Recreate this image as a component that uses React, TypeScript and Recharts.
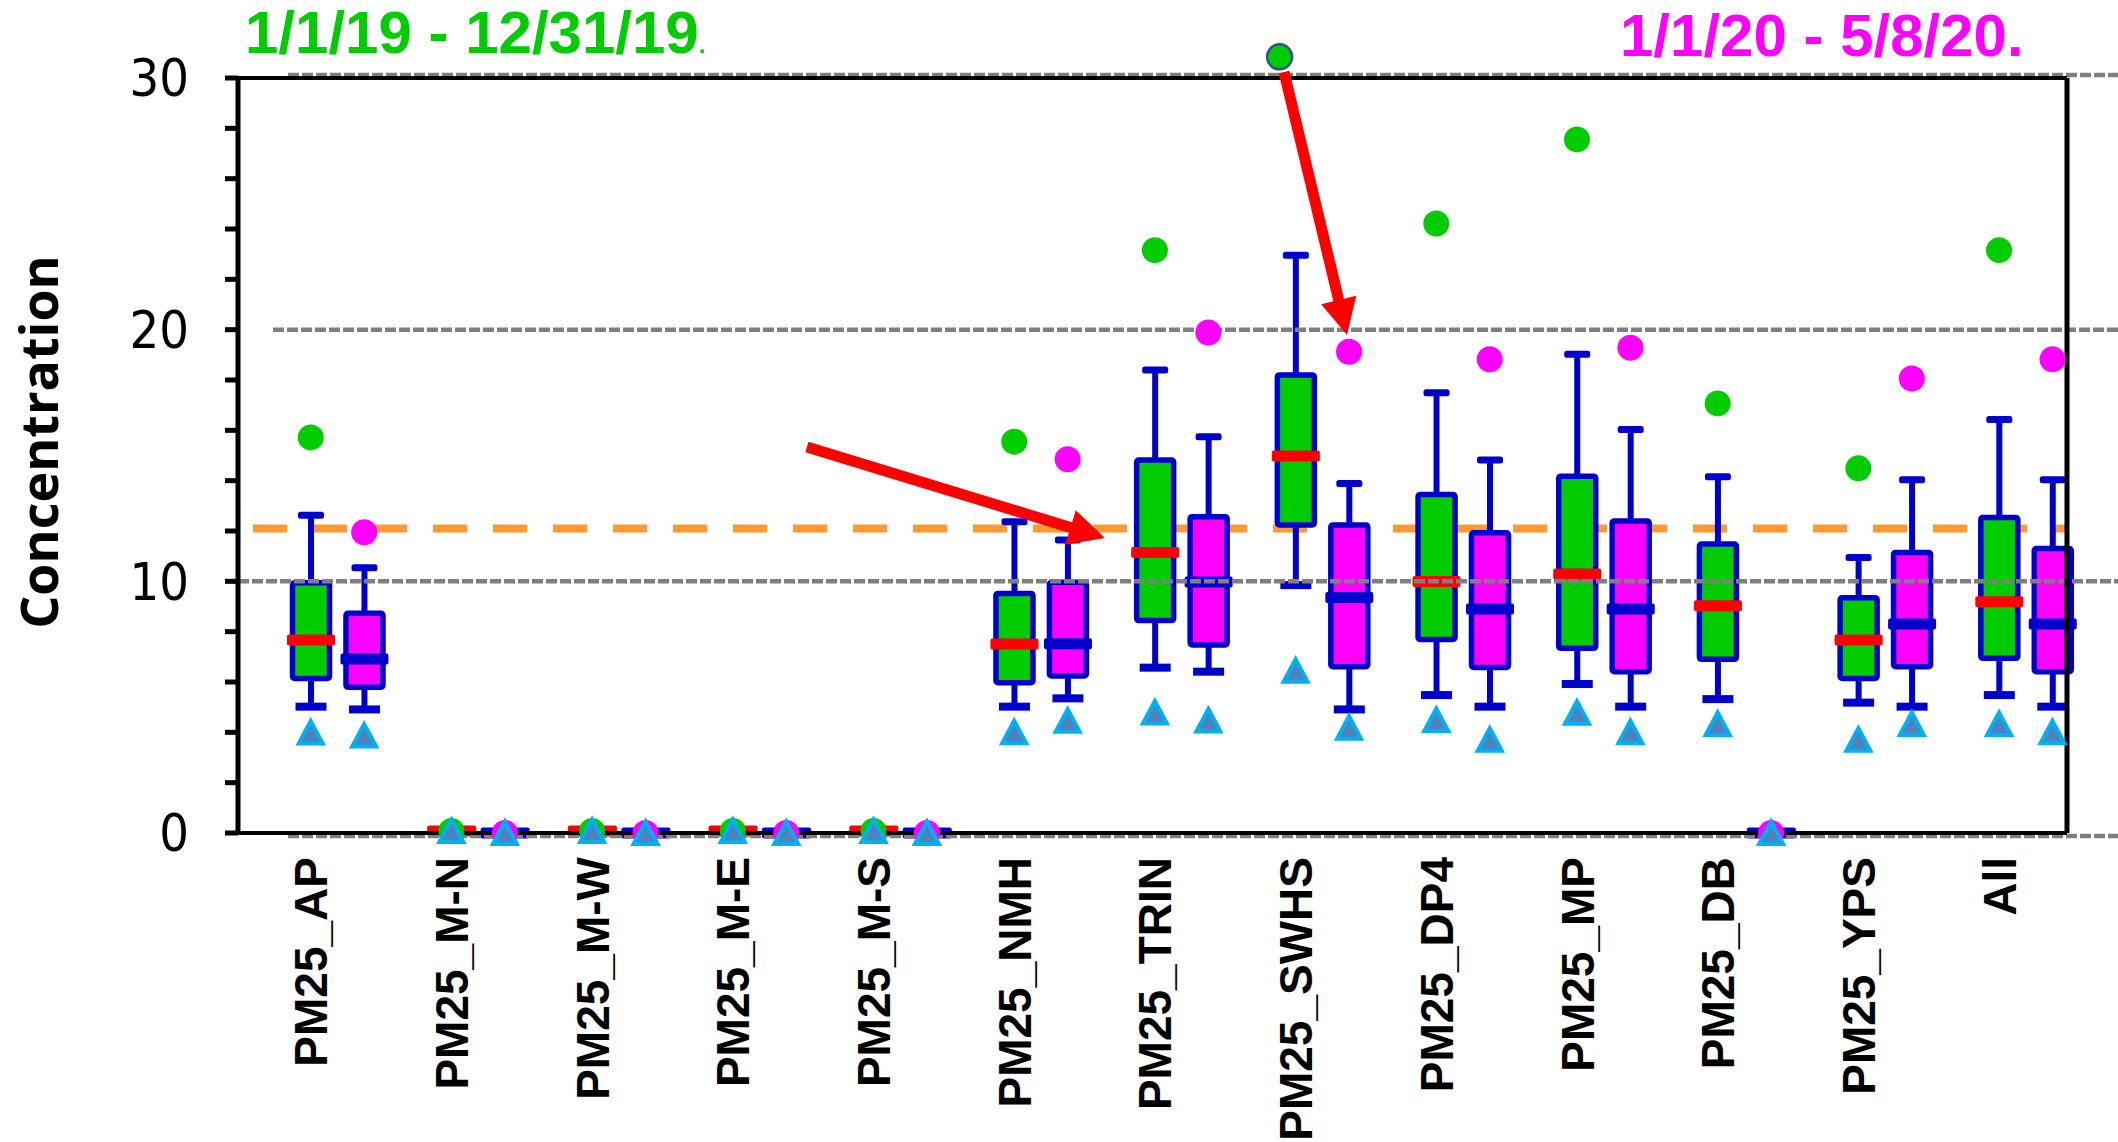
import React from 'react';
import { ComposedChart, Bar, Scatter, XAxis, YAxis, ReferenceLine } from 'recharts';

// ---------- data ----------
const categories = [
  'PM25_AP', 'PM25_M-N', 'PM25_M-W', 'PM25_M-E', 'PM25_M-S', 'PM25_NMH', 'PM25_TRIN',
  'PM25_SWHS', 'PM25_DP4', 'PM25_MP', 'PM25_DB', 'PM25_YPS', 'All',
];

// 1/1/19 - 12/31/19 (green)
const low2019 = [5.02, 0.08, 0.08, 0.08, 0.08, 5.02, 6.57, 9.85, 5.48, 5.92, 5.32, 5.18, 5.48];
const q1_2019 = [6.14, 0.08, 0.08, 0.08, 0.08, 5.97, 8.44, 12.24, 7.69, 7.34, 6.9, 6.14, 6.94];
const median2019 = [7.67, 0.08, 0.08, 0.08, 0.08, 7.51, 11.15, 14.98, 9.99, 10.29, 9.03, 7.67, 9.19];
const q3_2019 = [9.94, 0.08, 0.08, 0.08, 0.08, 9.52, 14.82, 18.2, 13.45, 14.18, 11.48, 9.35, 12.54];
const high2019 = [12.63, 0.08, 0.08, 0.08, 0.08, 12.37, 18.4, 22.96, 17.49, 19.02, 14.16, 10.95, 16.43];
const max2019 = [15.72, 0.08, 0.08, 0.08, 0.08, 15.55, 23.16, 30.84, 24.22, 27.56, 17.07, 14.49, 23.16];
const min2019 = [3.99, 0.08, 0.08, 0.08, 0.08, 4.0, 4.79, 6.45, 4.49, 4.78, 4.33, 3.71, 4.33];

// 1/1/20 - 5/8/20 (magenta)
const low2020 = [4.91, 0, 0, 0, 0, 5.35, 6.41, 4.91, 5.02, 5.02, 0, 5.02, 5.02];
const q1_2020 = [5.79, 0, 0, 0, 0, 6.24, 7.47, 6.61, 6.58, 6.41, 0, 6.61, 6.41];
const median2020 = [6.91, 0, 0, 0, 0, 7.52, 9.97, 9.36, 8.9, 8.9, 0, 8.3, 8.3];
const q3_2020 = [8.73, 0, 0, 0, 0, 9.96, 12.57, 12.24, 11.93, 12.4, 0, 11.15, 11.3];
const high2020 = [10.54, 0, 0, 0, 0, 11.64, 15.75, 13.89, 14.82, 16.03, 0, 14.04, 14.04];
const max2020 = [11.95, 0, 0, 0, 0, 14.85, 19.89, 19.12, 18.82, 19.28, 0, 18.06, 18.82];
const min2020 = [3.87, 0, 0, 0, 0, 4.46, 4.47, 4.18, 3.71, 4.0, 0, 4.33, 4.0];

const yTicks = [0, 2, 4, 6, 8, 10, 12, 14, 16, 18, 20, 22, 24, 26, 28, 30];
const gridValues = [0, 10, 20, 30];
const standardValue = 12.1;
const title2019 = '1/1/19 - 12/31/19';
const title2020 = '1/1/20 - 5/8/20.';
const yLabel = 'Concentration';

// annotation arrows, in chart (x index, concentration) coordinates
const arrows = [
  { from: { x: 4.044, y: 15.34 }, to: { x: 6.162, y: 11.72 } },
  { from: { x: 7.435, y: 30.24 }, to: { x: 7.883, y: 19.79 } },
];

// ---------- layout / style ----------
const W = 2118;
const H = 1142;
const GREEN_POS = 0.517;
const MAGENTA_POS = 0.897;
const GREEN = '#00CC00';
const MAGENTA = '#FF00FF';
const RED = '#FF0000';
const BLUE = '#0000CC';
const GRID_MAX = 30;

type Row = {
  x: number; period: string; range: [number, number];
  lo: number; q1: number; med: number; q3: number; hi: number; dot: number; tri: number;
};

const rows: Row[] = [];
categories.forEach((_, i) => {
  rows.push({
    x: i + GREEN_POS, period: '2019', range: [low2019[i], high2019[i]],
    lo: low2019[i], q1: q1_2019[i], med: median2019[i], q3: q3_2019[i], hi: high2019[i],
    dot: max2019[i], tri: min2019[i],
  });
  rows.push({
    x: i + MAGENTA_POS, period: '2020', range: [low2020[i], high2020[i]],
    lo: low2020[i], q1: q1_2020[i], med: median2020[i], q3: q3_2020[i], hi: high2020[i],
    dot: max2020[i], tri: min2020[i],
  });
});

const xTicks = categories.map((_, i) => i + GREEN_POS);

const BoxShape = (props: any) => {
  const { x, y, width, height, payload } = props;
  if (x == null || y == null || !payload) return null;
  const cx = x + (width || 0) / 2;
  const { lo, q1, med, q3, hi, period } = payload as Row;
  const span = hi - lo;
  const py = (v: number) => (span === 0 ? y : y + (height * (hi - v)) / span);
  const is19 = period === '2019';
  const fill = is19 ? GREEN : MAGENTA;
  const medColor = is19 ? RED : BLUE;
  if (span === 0) {
    return <rect x={cx - 24.5} y={py(med) - 5.5} width={49} height={11} rx={2} fill={medColor} />;
  }
  return (
    <g>
      <line x1={cx} x2={cx} y1={py(hi)} y2={py(lo)} stroke={BLUE} strokeWidth={6} />
      <rect x={cx - 13} y={py(hi) - 3.5} width={26} height={7} rx={2.5} fill={BLUE} />
      <rect x={cx - 15.5} y={py(lo) - 4} width={31} height={8} fill={BLUE} />
      <rect x={cx - 18.5} y={py(q3)} width={37} height={py(q1) - py(q3)} rx={2}
        fill={fill} stroke={BLUE} strokeWidth={5.5} />
      <rect x={cx - 24} y={py(med) - 5.5} width={48} height={11} rx={2} fill={medColor} />
    </g>
  );
};

const DotShape = (props: any) => {
  const { cx, cy, payload } = props;
  if (cx == null || cy == null) return null;
  const is19 = payload.period === '2019';
  const out = payload.dot > GRID_MAX;
  return (
    <circle cx={out ? cx - 16 : cx} cy={cy} r={out ? 12.5 : 13} fill={is19 ? GREEN : MAGENTA}
      stroke={out ? '#2F528F' : 'none'} strokeWidth={out ? 2.5 : 0} />
  );
};

const TriShape = (props: any) => {
  const { cx, cy } = props;
  if (cx == null || cy == null) return null;
  return (
    <polygon points={`${cx},${cy - 11.5} ${cx + 12},${cy + 11} ${cx - 12},${cy + 11}`}
      fill="#4F81BD" stroke="#00B0F0" strokeWidth={4} strokeLinejoin="miter" />
  );
};

const XTick = (props: any) => {
  const { x, y, payload } = props;
  const idx = Math.round(payload.value - GREEN_POS);
  return (
    <text x={x} y={y} transform={`rotate(-90, ${x}, ${y})`} textAnchor="end" dy="0.36em"
      fontFamily="'Liberation Sans', Arial, sans-serif" fontWeight="bold" fontSize={46} fill="#000">
      {categories[idx]}
    </text>
  );
};

const gridShape = (start: number, off: number) => (p: any) => (
  <line x1={p.x1 + start} x2={W} y1={p.y1 + off} y2={p.y2 + off}
    stroke="#7F7F7F" strokeWidth={4.5} strokeDasharray="11 3" />
);

const arrowShape = (p: any) => {
  const { x1, y1, x2, y2 } = p;
  const dx = x2 - x1;
  const dy = y2 - y1;
  const len = Math.sqrt(dx * dx + dy * dy) || 1;
  const ux = dx / len;
  const uy = dy / len;
  const nx = -uy;
  const ny = ux;
  const headLen = 36;
  const headHalf = 18;
  const shaftHalf = 5.5;
  const bx = x2 - ux * headLen;
  const by = y2 - uy * headLen;
  const pts = [
    [x1 + nx * shaftHalf, y1 + ny * shaftHalf],
    [bx + nx * shaftHalf, by + ny * shaftHalf],
    [bx + nx * headHalf, by + ny * headHalf],
    [x2, y2],
    [bx - nx * headHalf, by - ny * headHalf],
    [bx - nx * shaftHalf, by - ny * shaftHalf],
    [x1 - nx * shaftHalf, y1 - ny * shaftHalf],
  ].map((q) => q.join(',')).join(' ');
  return <polygon points={pts} fill="#FF0000" />;
};

export default function App() {
  return (
    <div style={{ position: 'absolute', left: 0, top: 0, width: W, height: H, background: '#fff' }}>
      <ComposedChart width={W} height={H} data={rows}
        margin={{ top: 27.67, right: 51, bottom: 9, left: 138 }}>
        <XAxis type="number" dataKey="x" domain={[0, 13]} ticks={xTicks} interval={0}
          tick={<XTick />} tickLine={false} tickSize={0} tickMargin={24}
          axisLine={{ stroke: '#000', strokeWidth: 4 }} height={300} />
        <YAxis type="number" domain={[0, 32]} ticks={yTicks} interval={0}
          tickFormatter={(v: number) => (v % 10 === 0 ? String(v) : '')}
          tick={{ fill: '#000', fontSize: 52, fontFamily: "'Liberation Sans Narrow', 'DejaVu Sans Condensed', sans-serif" }}
          tickLine={{ stroke: '#000', strokeWidth: 5 }} tickSize={13} tickMargin={36}
          axisLine={false} width={100} />

        <ReferenceLine y={standardValue} stroke="#FF9933" strokeWidth={8}
          strokeDasharray="34 26" strokeDashoffset={-15} zIndex={100} />

        <Bar dataKey="range" barSize={40} shape={BoxShape} isAnimationActive={false} />

        {gridValues.map((g) => (
          <ReferenceLine key={`g${g}`} y={g} zIndex={450}
            shape={gridShape(g === 10 ? 0 : g === 20 ? 35 : 50, g === 30 ? -3 : g === 0 ? 3 : 0)} />
        ))}

        <ReferenceLine y={GRID_MAX} stroke="#000" strokeWidth={4} zIndex={500} />
        <ReferenceLine segment={[{ x: 0, y: 0 }, { x: 0, y: GRID_MAX }]} stroke="#000" strokeWidth={5} zIndex={500} />
        <ReferenceLine segment={[{ x: 13, y: 0 }, { x: 13, y: GRID_MAX }]} stroke="#000" strokeWidth={5} zIndex={500} />

        <Scatter dataKey="dot" shape={DotShape} isAnimationActive={false} />
        <Scatter dataKey="tri" shape={TriShape} isAnimationActive={false} />

        {arrows.map((a, i) => (
          <ReferenceLine key={`a${i}`} segment={[a.from, a.to]} shape={arrowShape} zIndex={700} />
        ))}
      </ComposedChart>
      <svg width={W} height={H} style={{ position: 'absolute', left: 0, top: 0, pointerEvents: 'none' }}>
        <text x={245} y={53} fontFamily="'Liberation Sans', Arial, sans-serif" fontWeight="bold"
          fontSize={60} fill={GREEN}>
          {title2019}<tspan fontSize={24}>.</tspan>
        </text>
        <text x={1620} y={56} fontFamily="'Liberation Sans', Arial, sans-serif" fontWeight="bold"
          fontSize={60} fill={MAGENTA}>
          {title2020}
        </text>
        <text x={37} y={442} transform="rotate(-90, 37, 442)" textAnchor="middle" dominantBaseline="central"
          fontFamily="'Open Sans', sans-serif" fontWeight="bold" fontSize={52} fill="#000">
          {yLabel}
        </text>
      </svg>
    </div>
  );
}
